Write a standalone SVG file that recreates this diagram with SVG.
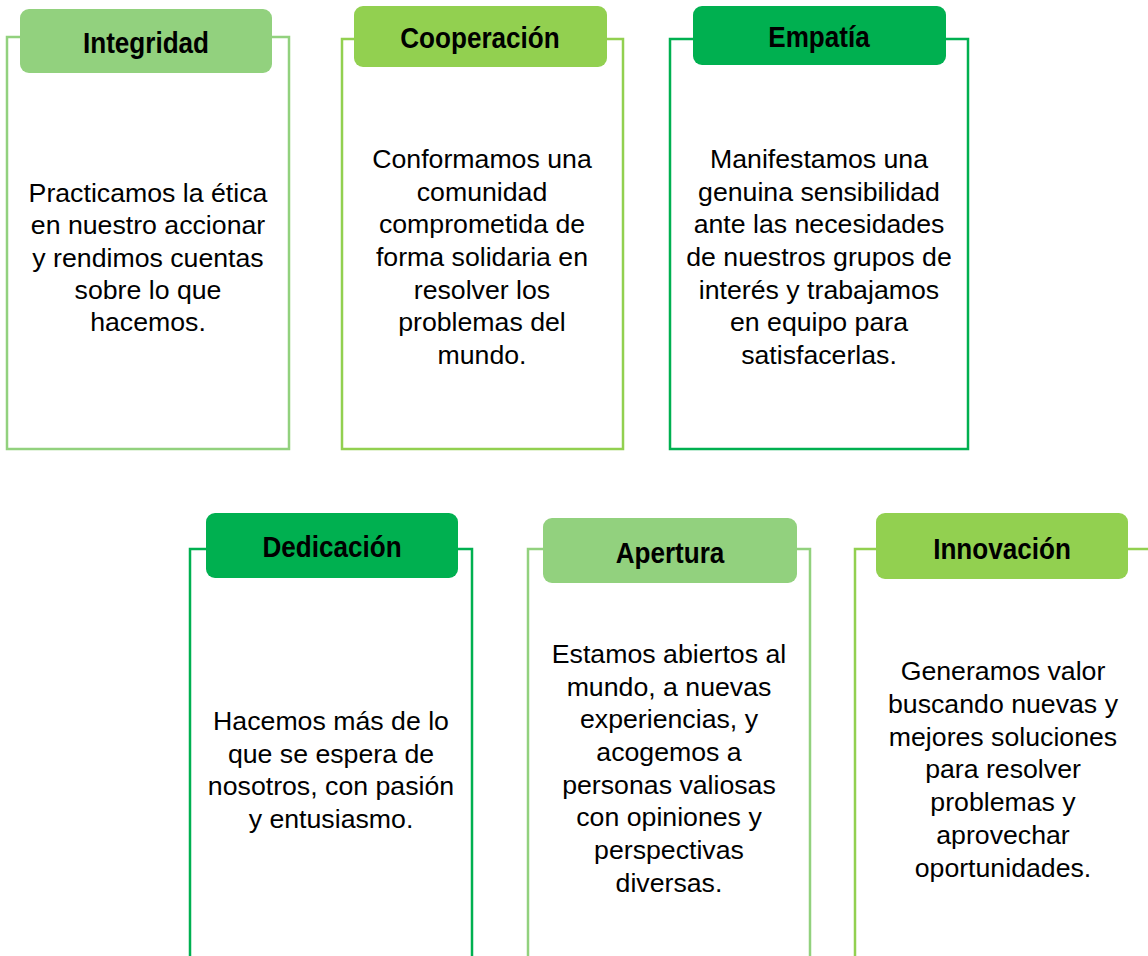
<svg xmlns="http://www.w3.org/2000/svg" width="1148" height="956" viewBox="0 0 1148 956">
<style>
.frame{fill:none;stroke-width:2.5}
.hd{font-family:"Liberation Sans",Arial,sans-serif;font-weight:bold;font-size:29px;text-anchor:middle;fill:#000}
.bd{font-family:"Liberation Sans",Arial,sans-serif;font-size:26.7px;text-anchor:middle;fill:#000}
.lg{stroke:#92D17E}
.mg{stroke:#92D050}
.dg{stroke:#00B050}
</style>
<rect width="1148" height="956" fill="#fff"/>
<g id="connectors"></g>
<g id="integridad">
<rect class="frame lg" x="7" y="37" width="282" height="412"/>
<rect x="20" y="9" width="252" height="64" rx="9" fill="#92D17E"/>
<text class="hd" transform="translate(146,53) scale(0.9,1)" x="0" y="0">Integridad</text>
<text class="bd" x="148"><tspan x="148" y="202">Practicamos la ética</tspan><tspan x="148" y="234">en nuestro accionar</tspan><tspan x="148" y="267">y rendimos cuentas</tspan><tspan x="148" y="299">sobre lo que</tspan><tspan x="148" y="331">hacemos.</tspan></text>
</g>
<g id="cooperacion">
<rect class="frame mg" x="342" y="39" width="281" height="410"/>
<rect x="354" y="6" width="253" height="61" rx="9" fill="#92D050"/>
<text class="hd" transform="translate(480,48) scale(0.9,1)" x="0" y="0">Cooperación</text>
<text class="bd" x="482"><tspan x="482" y="168">Conformamos una</tspan><tspan x="482" y="201">comunidad</tspan><tspan x="482" y="233">comprometida de</tspan><tspan x="482" y="266">forma solidaria en</tspan><tspan x="482" y="299">resolver los</tspan><tspan x="482" y="331">problemas del</tspan><tspan x="482" y="364">mundo.</tspan></text>
</g>
<g id="empatia">
<rect class="frame dg" x="670" y="39" width="298" height="410"/>
<rect x="693" y="6" width="253" height="59" rx="9" fill="#00B050"/>
<text class="hd" transform="translate(819,47) scale(0.9,1)" x="0" y="0">Empatía</text>
<text class="bd" x="819"><tspan x="819" y="168">Manifestamos una</tspan><tspan x="819" y="201">genuina sensibilidad</tspan><tspan x="819" y="233">ante las necesidades</tspan><tspan x="819" y="266">de nuestros grupos de</tspan><tspan x="819" y="299">interés y trabajamos</tspan><tspan x="819" y="331">en equipo para</tspan><tspan x="819" y="364">satisfacerlas.</tspan></text>
</g>
<g id="dedicacion">
<path class="frame dg" d="M190,960 V549 H472 V960"/>
<rect x="206" y="513" width="252" height="65" rx="9" fill="#00B050"/>
<text class="hd" transform="translate(332,557) scale(0.9,1)" x="0" y="0">Dedicación</text>
<text class="bd" x="331"><tspan x="331" y="730">Hacemos más de lo</tspan><tspan x="331" y="763">que se espera de</tspan><tspan x="331" y="795">nosotros, con pasión</tspan><tspan x="331" y="828">y entusiasmo.</tspan></text>
</g>
<g id="apertura">
<path class="frame lg" d="M528,960 V549 H810 V960"/>
<rect x="543" y="518" width="254" height="65" rx="9" fill="#92D17E"/>
<text class="hd" transform="translate(670,563) scale(0.9,1)" x="0" y="0">Apertura</text>
<text class="bd" x="669"><tspan x="669" y="663">Estamos abiertos al</tspan><tspan x="669" y="696">mundo, a nuevas</tspan><tspan x="669" y="728">experiencias, y</tspan><tspan x="669" y="761">acogemos a</tspan><tspan x="669" y="794">personas valiosas</tspan><tspan x="669" y="826">con opiniones y</tspan><tspan x="669" y="859">perspectivas</tspan><tspan x="669" y="892">diversas.</tspan></text>
</g>
<g id="innovacion">
<path class="frame mg" d="M855,960 V549 H1150"/>
<rect x="876" y="513" width="252" height="66" rx="9" fill="#92D050"/>
<text class="hd" transform="translate(1002,559) scale(0.9,1)" x="0" y="0">Innovación</text>
<text class="bd" x="1003"><tspan x="1003" y="680">Generamos valor</tspan><tspan x="1003" y="713">buscando nuevas y</tspan><tspan x="1003" y="746">mejores soluciones</tspan><tspan x="1003" y="778">para resolver</tspan><tspan x="1003" y="811">problemas y</tspan><tspan x="1003" y="844">aprovechar</tspan><tspan x="1003" y="877">oportunidades.</tspan></text>
</g>
</svg>
